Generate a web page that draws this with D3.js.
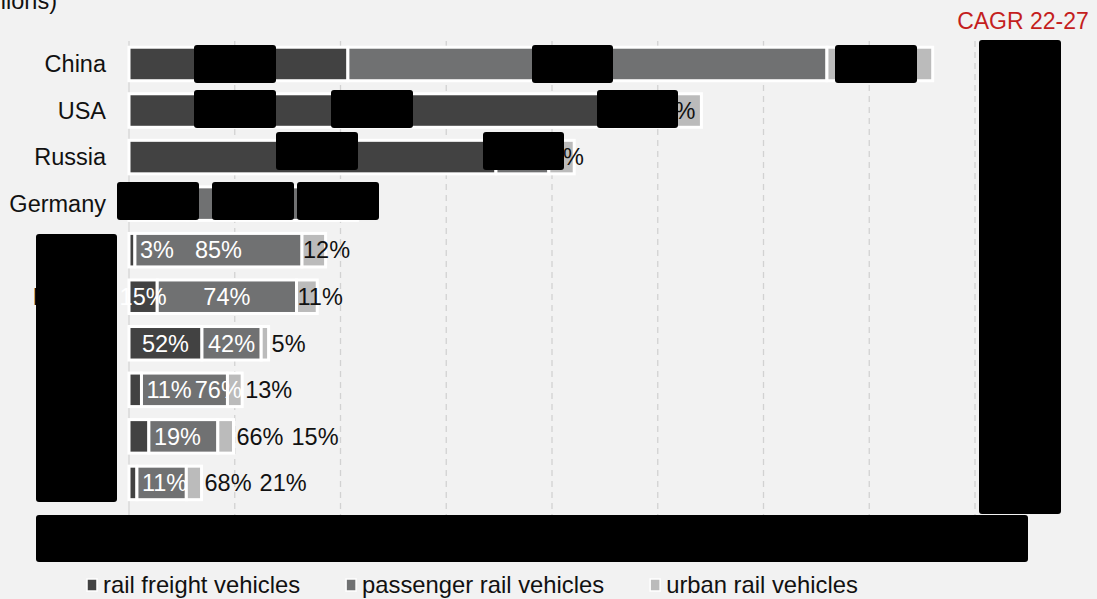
<!DOCTYPE html>
<html>
<head>
<meta charset="utf-8">
<script src="https://cdn.jsdelivr.net/npm/d3@7/dist/d3.min.js"></script>
<style>
  html, body { margin: 0; padding: 0; background: #f2f2f2; }
  svg { display: block; font-family: "Liberation Sans", Arial, Helvetica, sans-serif; }
</style>
</head>
<body>
<svg id="chart" width="1097" height="599"></svg>
<script>
// Rolling stock market by country, split by vehicle segment
const categories = ["China", "USA", "Russia", "Germany", "Japan", "France", "India", "UK", "Italy", "Spain"];
const freight    = [2.07, 4.60, 3.47, 0.55, 0.056, 0.267, 0.69, 0.118, 0.188, 0.075];
const passenger  = [4.53, 0.425, 0.50, 1.25, 1.58, 1.317, 0.56, 0.813, 0.652, 0.467];
const urban      = [1.00, 0.388, 0.24, 0.36, 0.223, 0.196, 0.07, 0.139, 0.148, 0.144];
const seriesNames = ["rail freight vehicles", "passenger rail vehicles", "urban rail vehicles"];
const xTicks = [0, 1, 2, 3, 4, 5, 6, 7, 8];
const unitLabel = "(billions)";
const cagrTitle = "CAGR 22-27";

// Blacked-out areas of the published figure
const redactions = [
  [194, 45, 82, 38], [532, 45, 81, 38], [835, 45, 82, 38],
  [194, 90, 82, 38], [331, 90, 82, 38], [597, 90, 81, 38],
  [276, 132, 82, 38], [483, 132, 81, 38],
  [117, 182, 82, 38], [212, 182, 82, 38], [297, 182, 82, 38],
  [36, 234, 81, 268], [979, 40, 82, 474], [36, 515, 992, 47]
];

const colors = ["#424242", "#707172", "#bbbbbb"];
const FONT = 23.5;

const svg = d3.select("#chart");
svg.append("rect").attr("width", 1097).attr("height", 599).attr("fill", "#f2f2f2");

const x = d3.scaleLinear().domain([0, 8]).range([129, 975]);
const y = d3.scaleBand().domain(categories).range([40.7, 506.2]).paddingInner(0.28).paddingOuter(0.14);

// gridlines
svg.append("g").selectAll("line").data(xTicks.slice(1)).join("line")
  .attr("x1", d => x(d)).attr("x2", d => x(d))
  .attr("y1", 41).attr("y2", 520)
  .attr("stroke", "#d2d2d2").attr("stroke-width", 1.3).attr("stroke-dasharray", "6,5");
svg.append("line").attr("x1", x(0)).attr("x2", x(0)).attr("y1", 41).attr("y2", 520)
  .attr("stroke", "#d4d4d4").attr("stroke-width", 1.3);

// x axis labels
const xAxis = d3.axisBottom(x).tickValues(xTicks).tickSize(0).tickPadding(10);
const gx = svg.append("g").attr("transform", "translate(0,513)").call(xAxis);
gx.select(".domain").remove();
gx.selectAll("text").attr("font-size", FONT).attr("fill", "#111").attr("font-family", "inherit");

// stacked rows
const rows = categories.map((c, i) => {
  const vals = [freight[i], passenger[i], urban[i]];
  const total = d3.sum(vals);
  let acc = 0;
  const segs = vals.map((v, k) => {
    const s = { cat: c, k, v, x0: acc, x1: acc + v, pct: Math.round(v / total * 100) };
    acc += v;
    return s;
  });
  return { cat: c, segs, total };
});

const gBars = svg.append("g");
rows.forEach(r => {
  gBars.selectAll(null).data(r.segs).join("rect")
    .attr("x", d => x(d.x0)).attr("width", d => x(d.x1) - x(d.x0))
    .attr("y", y(r.cat)).attr("height", y.bandwidth())
    .attr("fill", d => colors[d.k])
    .attr("stroke", "#ffffff").attr("stroke-width", 3);
});

// percentage labels, placed left to right so they never overlap
const gLab = svg.append("g").attr("font-size", FONT);
rows.forEach(r => {
  const cy = y(r.cat) + y.bandwidth() / 2;
  const barEnd = x(r.total);
  let prevRight = -Infinity, prevOutside = false;
  r.segs.forEach(s => {
    const t = gLab.append("text").text(s.pct + "%").attr("y", cy).attr("dy", "0.35em");
    const w = t.node().getComputedTextLength();
    const a = x(s.x0), b = x(s.x1), sw = b - a, mid = (a + b) / 2;
    let left, fill = "#ffffff", outside = false;
    if (s.k === 0) {
      left = sw >= w / 2 ? mid - w / 2 : b + 5;
    } else if (s.k === 1) {
      left = Math.max(mid - w / 2, prevRight + 3);
      if (left + w > barEnd) { left = Math.max(barEnd, prevRight) + 3; fill = "#111"; outside = true; }
    } else {
      fill = "#111";
      if (w + 8 <= sw) left = mid - w / 2;
      else if (sw >= w / 3) left = a + 1;
      else { left = barEnd + 3; outside = true; }
      left = Math.max(left, prevRight + (prevOutside ? 8 : 3));
    }
    t.attr("x", left).attr("fill", fill);
    prevRight = left + w;
    prevOutside = outside;
  });
});

// category labels
svg.append("g").selectAll("text").data(categories).join("text")
  .attr("x", 106).attr("y", d => y(d) + y.bandwidth() / 2).attr("dy", "0.35em")
  .attr("text-anchor", "end").attr("font-size", FONT).attr("fill", "#111")
  .text(d => d);

// unit label (top left, partly off canvas)
svg.append("text").attr("x", 57).attr("y", 9).attr("text-anchor", "end")
  .attr("font-size", FONT).attr("fill", "#111").text(unitLabel);

// CAGR column header
svg.append("text").attr("x", 1023).attr("y", 29).attr("text-anchor", "middle")
  .attr("font-size", 23).attr("fill", "#c41e1e").text(cagrTitle);

// legend
const gLeg = svg.append("g").attr("transform", "translate(87,585)");
let lx = 0;
seriesNames.forEach((name, k) => {
  gLeg.append("rect").attr("x", lx).attr("y", -6).attr("width", 10).attr("height", 12)
    .attr("fill", colors[k]).attr("stroke", "#fff").attr("stroke-width", 1.5);
  const t = gLeg.append("text").attr("x", lx + 16).attr("y", 0).attr("dy", "0.35em")
    .attr("font-size", 23.8).attr("fill", "#111").text(name);
  lx += 16 + t.node().getComputedTextLength() + 46;
});

// blacked-out areas
svg.append("g").selectAll("rect").data(redactions).join("rect")
  .attr("x", d => d[0]).attr("y", d => d[1]).attr("width", d => d[2]).attr("height", d => d[3])
  .attr("rx", 3).attr("fill", "#000");
</script>
</body>
</html>
